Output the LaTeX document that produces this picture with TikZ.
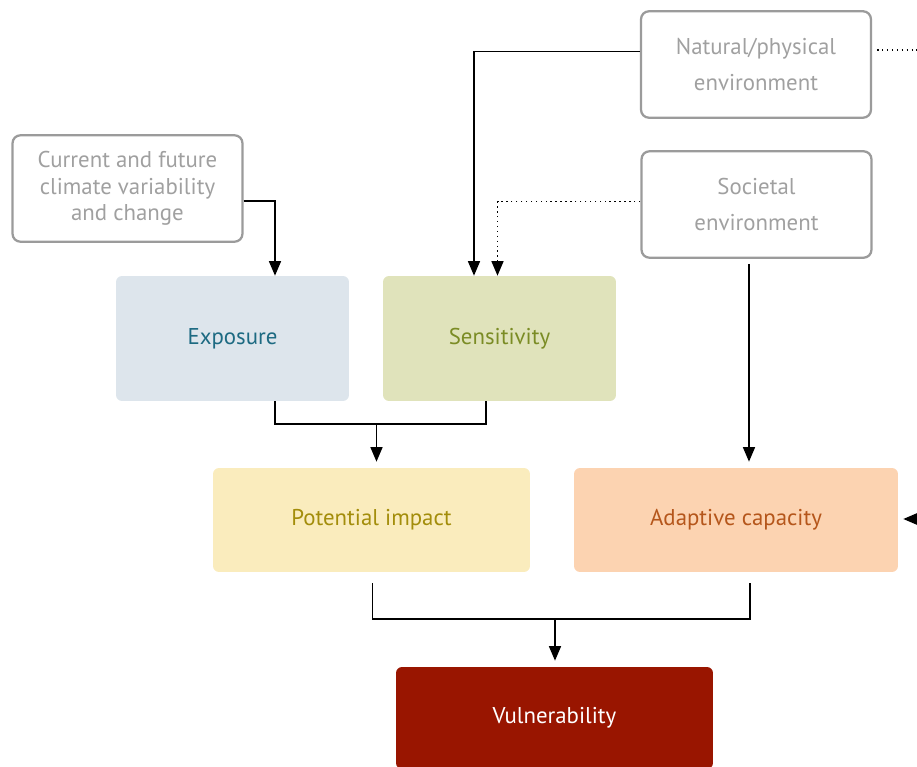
\documentclass[tikz,border=0pt]{standalone}
\usepackage{fontspec}
\setmainfont{PT Sans}
\usepackage{tikz}
\usepackage{xcolor}
\usetikzlibrary{arrows.meta, calc, positioning}

\definecolor{frame}{HTML}{9B9B9B}
\definecolor{frametext}{HTML}{A0A0A0}
\definecolor{expofill}{HTML}{DDE5EC}
\definecolor{expotext}{HTML}{1D6A82}
\definecolor{sensfill}{HTML}{E0E3BB}
\definecolor{senstext}{HTML}{7B8C25}
\definecolor{potfill}{HTML}{FAECBD}
\definecolor{pottext}{HTML}{A38D0B}
\definecolor{adapfill}{HTML}{FCD3B1}
\definecolor{adaptext}{HTML}{B5561B}
\definecolor{vulfill}{HTML}{991500}

\tikzset{
    outer/.style={draw=frame, line width=1.3pt, rounded corners=0.16cm, text=frametext, align=center,
        minimum width=4.6cm, minimum height=2.13cm, font=\fontsize{13}{15}\selectfont},
    spread/.style={outer, font=\fontsize{13}{20}\selectfont},
    factor/.style={rounded corners=0.12cm, minimum width=4.66cm, minimum height=2.5cm,
        font=\fontsize{13}{15}\selectfont},
    line/.style={line width=0.8pt},
    link/.style={line, -{Triangle[length=0.29cm, width=0.24cm]}},
    weak/.style={link, dotted}
}

\begin{document}
\begin{tikzpicture}[x=0.02cm, y=-0.02cm]
                        \useasboundingbox (0, 0) rectangle (917, 767);
                        \clip (0, 0) rectangle (917, 767);

                        \node[outer] (clim) at (127.5, 188.5) {Current and future\\climate variability\\and change};
                        \node[spread] (nat) at (756, 64.5) {Natural/physical\\environment};
                        \node[spread] (soc) at (756.5, 204.5) {Societal\\environment};

                        \node[factor, fill=expofill, text=expotext] (expo) at (232.5, 338.5) {Exposure};
                        \node[factor, fill=sensfill, text=senstext] (sens) at (499.5, 338.5) {Sensitivity};
                        \node[factor, fill=potfill, text=pottext, minimum width=6.34cm, minimum height=2.08cm] (pot) at (371.5, 520) {Potential impact};
                        \node[factor, fill=adapfill, text=adaptext, minimum width=6.48cm, minimum height=2.08cm] (adap) at (736, 520) {Adaptive capacity};
                        \node[factor, fill=vulfill, text=white, minimum width=6.34cm, minimum height=2.04cm] (vul) at (554.5, 718) {Vulnerability};

                        \coordinate (join1) at (376.5, 424);
                        \coordinate (join2) at (555, 619);
                        \coordinate (rimN) at (917, 50);
                        \coordinate (rimA) at (917, 519);

                        \draw[link] ($(clim.east)+(0, 12.5)$) -| ($(expo.north)+(42.5, 0)$);
                        \draw[link] ($(nat.west)+(0, -13)$) -| ($(sens.north)+(-25.5, 0)$);
                        \draw[weak] ($(soc.west)+(0, -3)$) -| ($(sens.north)+(-2, 0)$);
                        \draw[line, dotted] ([xshift=0.1cm]nat.east |- rimN) -- (rimN);
                        \draw[link] ($(soc.south)+(-7.5, 5)$) -- ($(adap.north)+(13, -6)$);

                        \draw[line] ($(expo.south)+(42.5, 0)$) |- (join1) -| ($(sens.south)+(-13.5, 0)$);
                        \draw[link, shorten >=0.12cm] (join1) -- (join1 |- pot.north);

                        \draw[line] ($(pot.south)+(1, 11)$) |- (join2) -| ($(adap.south)+(14, 11)$);
                        \draw[link, shorten >=0.12cm] (join2) -- (join2 |- vul.north);
                        \draw[link, shorten >=0.1cm] (rimA) -- (adap.east |- rimA);
                    \end{tikzpicture}
\end{document}
